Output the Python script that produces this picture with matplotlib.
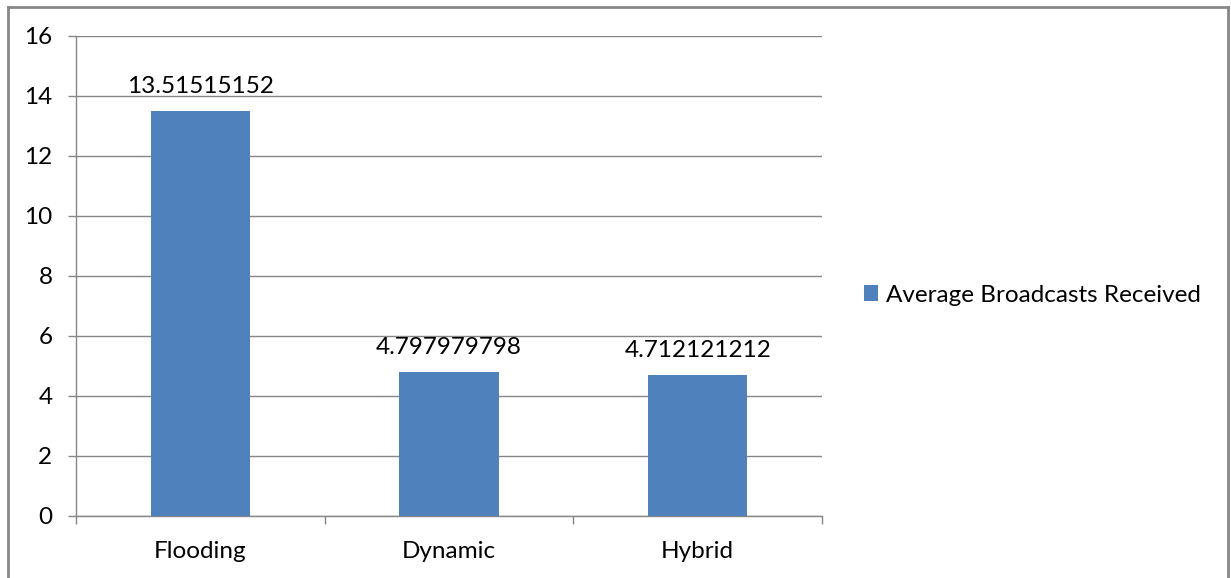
import matplotlib
matplotlib.use("Agg")
import matplotlib.pyplot as plt
from matplotlib.lines import Line2D
from matplotlib.patches import Patch

categories = ["Flooding", "Dynamic", "Hybrid"]
values = [13.51515152, 4.797979798, 4.712121212]
value_labels = ["13.51515152", "4.797979798", "4.712121212"]
series_name = "Average Broadcasts Received"
y_ticks = [0, 2, 4, 6, 8, 10, 12, 14, 16]

plt.rcParams['font.family'] = ['Lato', 'DejaVu Sans']
bar_color = "#4F81BD"
grid_color = "#868686"
fs = 17.5

W, H = 1231, 578
fig = plt.figure(figsize=(W / 100, H / 100), dpi=100)
ax = fig.add_axes([76 / W, 62 / H, (822 - 76) / W, (516 - 36) / H])

x = list(range(len(categories)))
ax.bar(x, values, width=0.4, color=bar_color, zorder=3)
for xi, v, lab in zip(x, values, value_labels):
    ax.annotate(lab, (xi, v), xytext=(0, 10), textcoords="offset points",
                ha="center", va="bottom", fontsize=fs, color="black")

ax.set_xlim(-0.5, len(categories) - 0.5)
ax.set_ylim(0, 16)
ax.set_yticks(y_ticks)
ax.set_yticklabels([str(t) for t in y_ticks], fontsize=fs)
ax.yaxis.grid(True, color=grid_color, linewidth=1.0, zorder=0)
ax.tick_params(axis="y", length=6, width=1.0, color=grid_color, pad=11)

# category labels at centers, tick marks at category boundaries
ax.set_xticks(x)
ax.set_xticklabels(categories, fontsize=fs)
ax.tick_params(axis="x", which="major", length=0, pad=18)
ax.set_xticks([i - 0.5 for i in range(len(categories) + 1)], minor=True)
ax.tick_params(axis="x", which="minor", length=6, width=1.0, color=grid_color,
               direction="out")

for side in ["top", "right"]:
    ax.spines[side].set_visible(False)
for side in ["left", "bottom"]:
    ax.spines[side].set_color(grid_color)
    ax.spines[side].set_linewidth(1.0)

handle = Patch(facecolor=bar_color, edgecolor="none")
fig.legend([handle], [series_name], loc="center left",
           bbox_to_anchor=(842 / W, 1 - 295 / H), frameon=False,
           fontsize=fs, handlelength=0.6, handleheight=0.6, handletextpad=0.3)

# outer chart border (left, top, right)
border_kw = dict(color="#888888", linewidth=2.0, transform=fig.transFigure)
fig.add_artist(Line2D([8 / W, 8 / W], [0, 1 - 7 / H], **border_kw))
fig.add_artist(Line2D([8 / W, 1228 / W], [1 - 7 / H, 1 - 7 / H], **border_kw))
fig.add_artist(Line2D([1228 / W, 1228 / W], [0, 1 - 7 / H], **border_kw))

fig.savefig("out.png", dpi=100)
